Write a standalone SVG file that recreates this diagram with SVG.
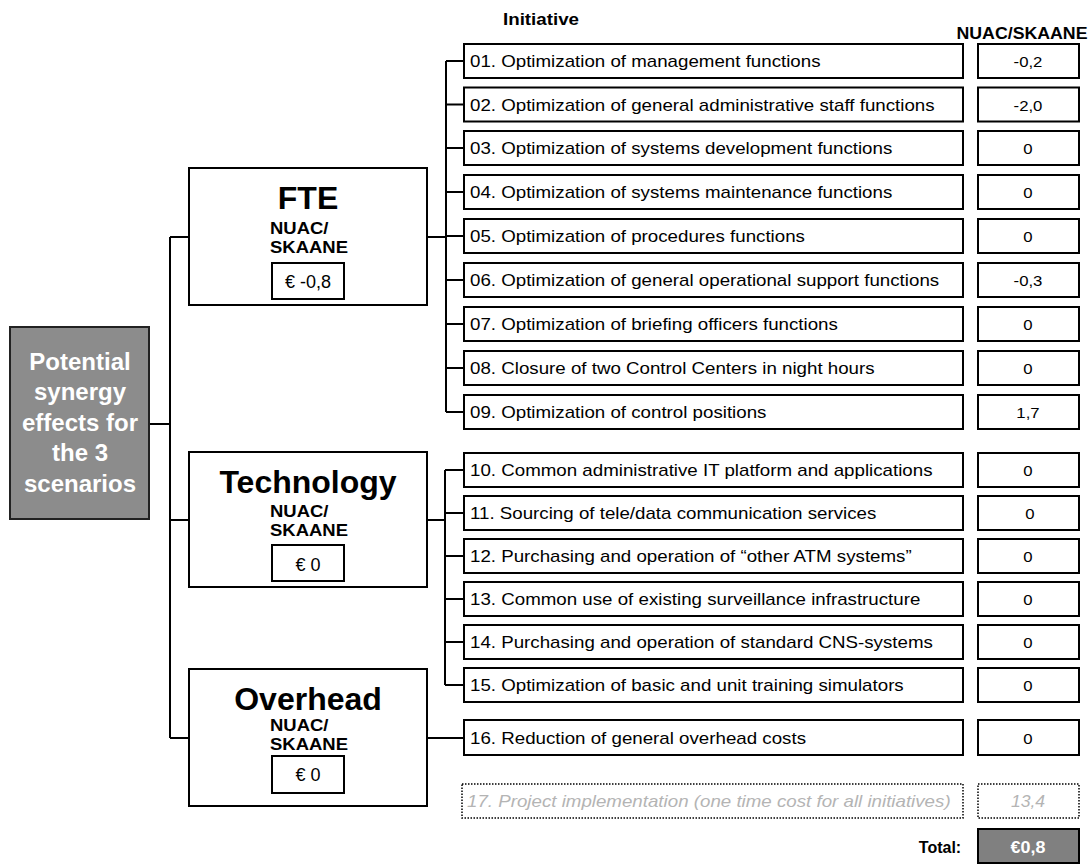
<svg xmlns="http://www.w3.org/2000/svg" width="1089" height="865" viewBox="0 0 1089 865">
<style>
.box{fill:#fff;stroke:#000;stroke-width:2}
.it{font-family:"Liberation Sans",Arial,sans-serif;font-size:16px;fill:#000}
.val{font-family:"Liberation Sans",Arial,sans-serif;font-size:15.5px;fill:#000;text-anchor:middle}
.title{font-family:"Liberation Sans",Arial,sans-serif;font-weight:bold;font-size:32px;fill:#000;text-anchor:middle}
.sub{font-family:"Liberation Sans",Arial,sans-serif;font-weight:bold;font-size:16.5px;fill:#000}
.eur{font-family:"Liberation Sans",Arial,sans-serif;font-size:18px;fill:#000;text-anchor:middle}
.hdr{font-family:"Liberation Sans",Arial,sans-serif;font-weight:bold;font-size:16px;fill:#000;text-anchor:middle}
.conn{fill:none;stroke:#000;stroke-width:2}
.dot{fill:#fff;stroke:#000;stroke-width:1.5;stroke-dasharray:1.5 1.5}
.grey{font-family:"Liberation Sans",Arial,sans-serif;font-size:16px;font-style:italic;fill:#b4b4b4}
.root{font-family:"Liberation Sans",Arial,sans-serif;font-weight:bold;font-size:24px;fill:#fff;text-anchor:middle}
</style>
<rect width="1089" height="865" fill="#fff"/>

<text class="hdr" x="541" y="25" textLength="76" lengthAdjust="spacingAndGlyphs">Initiative</text>
<text class="hdr" x="1022" y="39" textLength="131" lengthAdjust="spacingAndGlyphs">NUAC/SKAANE</text>

<g id="connectors">
<path class="conn" d="M149,424 H170 M170,237 V738 M170,237 H189 M170,520 H189 M170,738 H189"/>
<path class="conn" d="M427,237 H446 M446,61 V412 M446,61 H464 M446,104.5 H464 M446,148 H464 M446,192 H464 M446,236 H464 M446,280 H464 M446,324 H464 M446,368 H464 M446,412 H464"/>
<path class="conn" d="M427,520 H445 M445,470 V685 M445,470 H464 M445,513 H464 M445,556 H464 M445,599 H464 M445,642 H464 M445,685 H464"/>
<path class="conn" d="M427,738 H464"/>
</g>

<g id="root">
<rect x="10" y="327" width="139" height="192" fill="#8c8c8c" stroke="#222" stroke-width="2"/>
<text class="root" x="80" y="370">Potential</text>
<text class="root" x="80" y="400">synergy</text>
<text class="root" x="80" y="431">effects for</text>
<text class="root" x="80" y="461">the 3</text>
<text class="root" x="80" y="492">scenarios</text>
</g>

<g id="fte">
<rect class="box" x="189" y="168" width="238" height="137"/>
<text class="title" x="308" y="209">FTE</text>
<text class="sub" transform="translate(270,234) scale(1.12,1)">NUAC/</text>
<text class="sub" transform="translate(270,252.5) scale(1.12,1)">SKAANE</text>
<rect class="box" x="272" y="263" width="72" height="36"/>
<text class="eur" x="308" y="288">€ -0,8</text>
</g>

<g id="technology">
<rect class="box" x="189" y="452" width="238" height="135"/>
<text class="title" x="308" y="493">Technology</text>
<text class="sub" transform="translate(270,517) scale(1.12,1)">NUAC/</text>
<text class="sub" transform="translate(270,535.5) scale(1.12,1)">SKAANE</text>
<rect class="box" x="272" y="545" width="72" height="36"/>
<text class="eur" x="308" y="571">€ 0</text>
</g>

<g id="overhead">
<rect class="box" x="189" y="669" width="238" height="137"/>
<text class="title" x="308" y="710">Overhead</text>
<text class="sub" transform="translate(270,731) scale(1.12,1)">NUAC/</text>
<text class="sub" transform="translate(270,749.5) scale(1.12,1)">SKAANE</text>
<rect class="box" x="272" y="756" width="72" height="37"/>
<text class="eur" x="308" y="781">€ 0</text>
</g>

<g id="i01"><rect class="box" x="464" y="44" width="499" height="34"/><text class="it" transform="translate(470,67) scale(1.17,1)">01. Optimization of management functions</text><rect class="box" x="978" y="44" width="101" height="34"/><text class="val" transform="translate(1028,67) scale(1.08,1)">-0,2</text></g>
<g id="i02"><rect class="box" x="464" y="87.5" width="499" height="34"/><text class="it" transform="translate(470,110.5) scale(1.17,1)">02. Optimization of general administrative staff functions</text><rect class="box" x="978" y="87.5" width="101" height="34"/><text class="val" transform="translate(1028,110.5) scale(1.08,1)">-2,0</text></g>
<g id="i03"><rect class="box" x="464" y="131" width="499" height="34"/><text class="it" transform="translate(470,154) scale(1.17,1)">03. Optimization of systems development functions</text><rect class="box" x="978" y="131" width="101" height="34"/><text class="val" transform="translate(1028,154) scale(1.08,1)">0</text></g>
<g id="i04"><rect class="box" x="464" y="175" width="499" height="34"/><text class="it" transform="translate(470,198) scale(1.17,1)">04. Optimization of systems maintenance functions</text><rect class="box" x="978" y="175" width="101" height="34"/><text class="val" transform="translate(1028,198) scale(1.08,1)">0</text></g>
<g id="i05"><rect class="box" x="464" y="219" width="499" height="34"/><text class="it" transform="translate(470,242) scale(1.17,1)">05. Optimization of procedures functions</text><rect class="box" x="978" y="219" width="101" height="34"/><text class="val" transform="translate(1028,242) scale(1.08,1)">0</text></g>
<g id="i06"><rect class="box" x="464" y="263" width="499" height="34"/><text class="it" transform="translate(470,286) scale(1.17,1)">06. Optimization of general operational support functions</text><rect class="box" x="978" y="263" width="101" height="34"/><text class="val" transform="translate(1028,286) scale(1.08,1)">-0,3</text></g>
<g id="i07"><rect class="box" x="464" y="307" width="499" height="34"/><text class="it" transform="translate(470,330) scale(1.17,1)">07. Optimization of briefing officers functions</text><rect class="box" x="978" y="307" width="101" height="34"/><text class="val" transform="translate(1028,330) scale(1.08,1)">0</text></g>
<g id="i08"><rect class="box" x="464" y="351" width="499" height="34"/><text class="it" transform="translate(470,374) scale(1.17,1)">08. Closure of two Control Centers in night hours</text><rect class="box" x="978" y="351" width="101" height="34"/><text class="val" transform="translate(1028,374) scale(1.08,1)">0</text></g>
<g id="i09"><rect class="box" x="464" y="395" width="499" height="34"/><text class="it" transform="translate(470,418) scale(1.17,1)">09. Optimization of control positions</text><rect class="box" x="978" y="395" width="101" height="34"/><text class="val" transform="translate(1028,418) scale(1.08,1)">1,7</text></g>

<g id="i10"><rect class="box" x="464" y="453" width="499" height="34"/><text class="it" transform="translate(470,476) scale(1.17,1)">10. Common administrative IT platform and applications</text><rect class="box" x="978" y="453" width="101" height="34"/><text class="val" transform="translate(1028,476) scale(1.08,1)">0</text></g>
<g id="i11"><rect class="box" x="464" y="496" width="499" height="34"/><text class="it" transform="translate(470,519) scale(1.17,1)">11. Sourcing of tele/data communication services</text><rect class="box" x="978" y="496" width="101" height="34"/><text class="val" transform="translate(1030,519) scale(1.08,1)">0</text></g>
<g id="i12"><rect class="box" x="464" y="539" width="499" height="34"/><text class="it" transform="translate(470,562) scale(1.17,1)">12. Purchasing and operation of “other ATM systems”</text><rect class="box" x="978" y="539" width="101" height="34"/><text class="val" transform="translate(1028,562) scale(1.08,1)">0</text></g>
<g id="i13"><rect class="box" x="464" y="582" width="499" height="34"/><text class="it" transform="translate(470,605) scale(1.17,1)">13. Common use of existing surveillance infrastructure</text><rect class="box" x="978" y="582" width="101" height="34"/><text class="val" transform="translate(1028,605) scale(1.08,1)">0</text></g>
<g id="i14"><rect class="box" x="464" y="625" width="499" height="34"/><text class="it" transform="translate(470,648) scale(1.17,1)">14. Purchasing and operation of standard CNS-systems</text><rect class="box" x="978" y="625" width="101" height="34"/><text class="val" transform="translate(1028,648) scale(1.08,1)">0</text></g>
<g id="i15"><rect class="box" x="464" y="668" width="499" height="34"/><text class="it" transform="translate(470,691) scale(1.17,1)">15. Optimization of basic and unit training simulators</text><rect class="box" x="978" y="668" width="101" height="34"/><text class="val" transform="translate(1028,691) scale(1.08,1)">0</text></g>

<g id="i16"><rect class="box" x="464" y="720" width="499" height="35"/><text class="it" transform="translate(470,744) scale(1.17,1)">16. Reduction of general overhead costs</text><rect class="box" x="978" y="720" width="101" height="35"/><text class="val" transform="translate(1028,744) scale(1.08,1)">0</text></g>

<g id="i17"><rect class="dot" x="462" y="784" width="501" height="34"/><text class="grey" transform="translate(467,807) scale(1.17,1)">17. Project implementation (one time cost for all initiatives)</text><rect class="dot" x="978" y="784" width="101" height="34"/><text class="grey" text-anchor="middle" transform="translate(1028,807) scale(1.1,1)">13,4</text></g>

<g id="total">
<text class="hdr" x="940" y="853">Total:</text>
<rect x="978" y="829" width="101" height="34" fill="#808080" stroke="#000" stroke-width="2"/>
<text font-family="Liberation Sans,Arial,sans-serif" font-weight="bold" font-size="16" fill="#fff" text-anchor="middle" transform="translate(1028,853) scale(1.12,1)">€0,8</text>
</g>
</svg>
